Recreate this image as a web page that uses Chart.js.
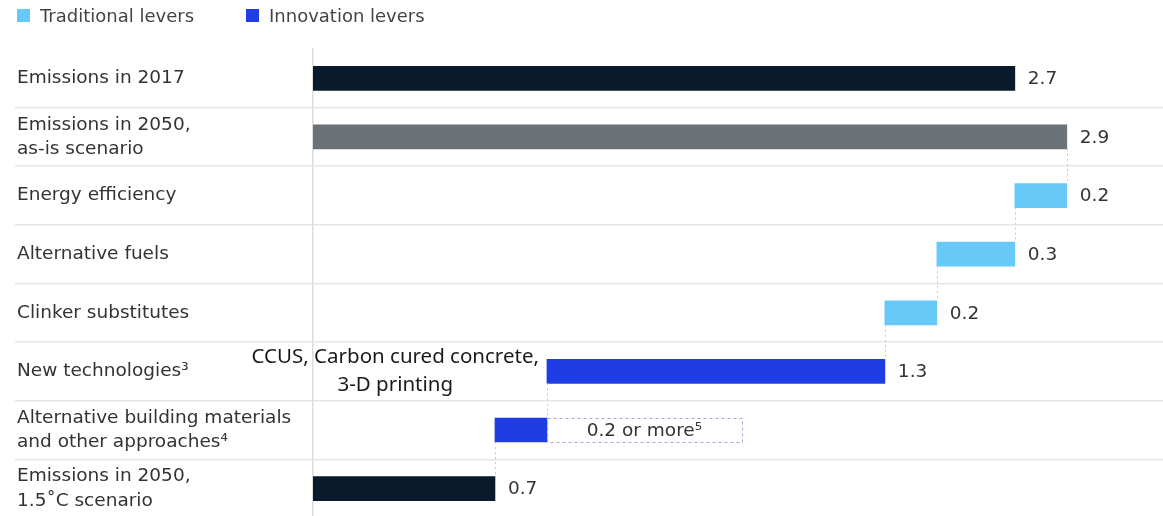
<!DOCTYPE html>
<html>
<head>
<meta charset="utf-8">
<script src="https://cdn.jsdelivr.net/npm/chart.js@4.4.1/dist/chart.umd.min.js"></script>
<style>
  html, body { margin: 0; padding: 0; background: #fff; overflow: hidden; }
  #wrap { position: relative; width: 1163px; height: 530px; }
  #chart { position: absolute; left: 0; top: 0; }
  .leg { position: absolute; top: 5px; font: 18px "DejaVu Sans", sans-serif; color: #444; white-space: nowrap; }
  .leg i { display: inline-block; width: 13px; height: 13px; vertical-align: 0px; margin-right: 10px; }
</style>
</head>
<body>
<div id="wrap">
  <canvas id="chart" width="1163" height="530"></canvas>
  <div class="leg" style="left:17px"><i style="background:#66c9f7"></i>Traditional levers</div>
  <div class="leg" style="left:246px"><i style="background:#1f3de4"></i>Innovation levers</div>
</div>
<script>
const categories = [
  ['Emissions in 2017'],
  ['Emissions in 2050,', 'as-is scenario'],
  ['Energy efficiency'],
  ['Alternative fuels'],
  ['Clinker substitutes'],
  ['New technologies³'],
  ['Alternative building materials', 'and other approaches⁴'],
  ['Emissions in 2050,', '1.5˚C scenario']
];
// waterfall: where each bar starts and ends (Gt CO2)
const barStart = [0, 0, 2.7, 2.4, 2.2, 0.9, 0.7, 0];
const barEnd = [2.7, 2.9, 2.9, 2.7, 2.4, 2.2, 0.9, 0.7];
const valueLabels = ['2.7', '2.9', '0.2', '0.3', '0.2', '1.3', '0.2 or more⁵', '0.7'];
const barKind = ['total', 'asis', 'traditional', 'traditional', 'traditional', 'innovation', 'innovation', 'total'];
// "or more" range shown as dotted box after the alternative materials bar
const openEndedIndex = 6;
const openEndedTo = 1.65;
const noteIndex = 5;
const noteLines = ['CCUS, Carbon cured concrete,', '3-D printing'];

const kindColors = {
  total: '#081a2b',
  asis: '#6b7378',
  traditional: '#66c9f7',
  innovation: '#1f3de4'
};

const extras = {
  id: 'extras',
  afterDatasetsDraw(chart) {
    const ctx = chart.ctx;
    const x = chart.scales.x;
    const meta = chart.getDatasetMeta(0);
    ctx.save();

    // dotted connectors between consecutive bars
    ctx.strokeStyle = '#c8c8c8';
    ctx.lineWidth = 1;
    ctx.setLineDash([2, 3]);
    for (let i = 0; i < barStart.length - 1; i++) {
      const a = [barStart[i], barEnd[i]];
      const b = [barStart[i + 1], barEnd[i + 1]];
      const shared = a.find(v => v !== 0 && b.includes(v));
      if (shared === undefined) continue;
      const px = Math.round(x.getPixelForValue(shared)) + 0.5;
      const top = meta.data[i].y + meta.data[i].height / 2;
      const bot = meta.data[i + 1].y - meta.data[i + 1].height / 2;
      ctx.beginPath();
      ctx.moveTo(px, top);
      ctx.lineTo(px, bot);
      ctx.stroke();
    }

    // dotted "or more" box
    const ob = meta.data[openEndedIndex];
    const bx1 = x.getPixelForValue(barEnd[openEndedIndex]);
    const bx2 = x.getPixelForValue(openEndedTo);
    ctx.strokeStyle = '#a4a4d6';
    ctx.setLineDash([3, 3]);
    ctx.strokeRect(Math.round(bx1) + 0.5, Math.round(ob.y - ob.height / 2) + 0.5, Math.round(bx2 - bx1), Math.round(ob.height));
    ctx.setLineDash([]);

    // value labels
    ctx.font = '18.5px "DejaVu Sans", sans-serif';
    ctx.fillStyle = '#333';
    ctx.textBaseline = 'middle';
    meta.data.forEach((bar, i) => {
      if (i === openEndedIndex) {
        ctx.textAlign = 'center';
        ctx.fillText(valueLabels[i], (bx1 + bx2) / 2, bar.y + 1);
      } else {
        ctx.textAlign = 'left';
        ctx.fillText(valueLabels[i], x.getPixelForValue(barEnd[i]) + 13, bar.y + 1);
      }
    });

    // note beside new technologies
    const nb = meta.data[noteIndex];
    ctx.font = '20.5px "Noto Sans", sans-serif';
    ctx.fillStyle = '#1a1a1a';
    const w = ctx.measureText(noteLines[0]).width;
    const cx = x.getPixelForValue(barStart[noteIndex]) - 8 - w / 2;
    ctx.textAlign = 'center';
    ctx.fillText(noteLines[0], cx, nb.y - 14);
    ctx.fillText(noteLines[1], cx, nb.y + 14);
    ctx.restore();
  }
};

new Chart(document.getElementById('chart'), {
  type: 'bar',
  data: {
    labels: categories,
    datasets: [{
      data: barStart.map((s, i) => [s, barEnd[i]]),
      backgroundColor: barKind.map(k => kindColors[k]),
      borderWidth: 0,
      borderSkipped: false,
      barThickness: 24
    }]
  },
  options: {
    indexAxis: 'y',
    responsive: false,
    animation: false,
    events: [],
    layout: { padding: { left: 17, top: 49, right: 0, bottom: 9 } },
    plugins: { legend: { display: false }, tooltip: { enabled: false } },
    scales: {
      x: { display: false, min: 0, max: 3.27 },
      y: {
        grid: {
          offset: true,
          tickLength: 298,
          color: c => c.index === 0 ? 'rgba(0,0,0,0)' : '#e6e6e6',
          lineWidth: 1.5
        },
        border: { color: '#dcdcdc', width: 1.5 },
        ticks: {
          crossAlign: 'far',
          padding: 0,
          color: '#333',
          font: { family: '"DejaVu Sans"', size: 18.5, lineHeight: 1.3 }
        },
        afterFit: s => { s.width = 296; }
      }
    }
  },
  plugins: [extras]
});
</script>
</body>
</html>
